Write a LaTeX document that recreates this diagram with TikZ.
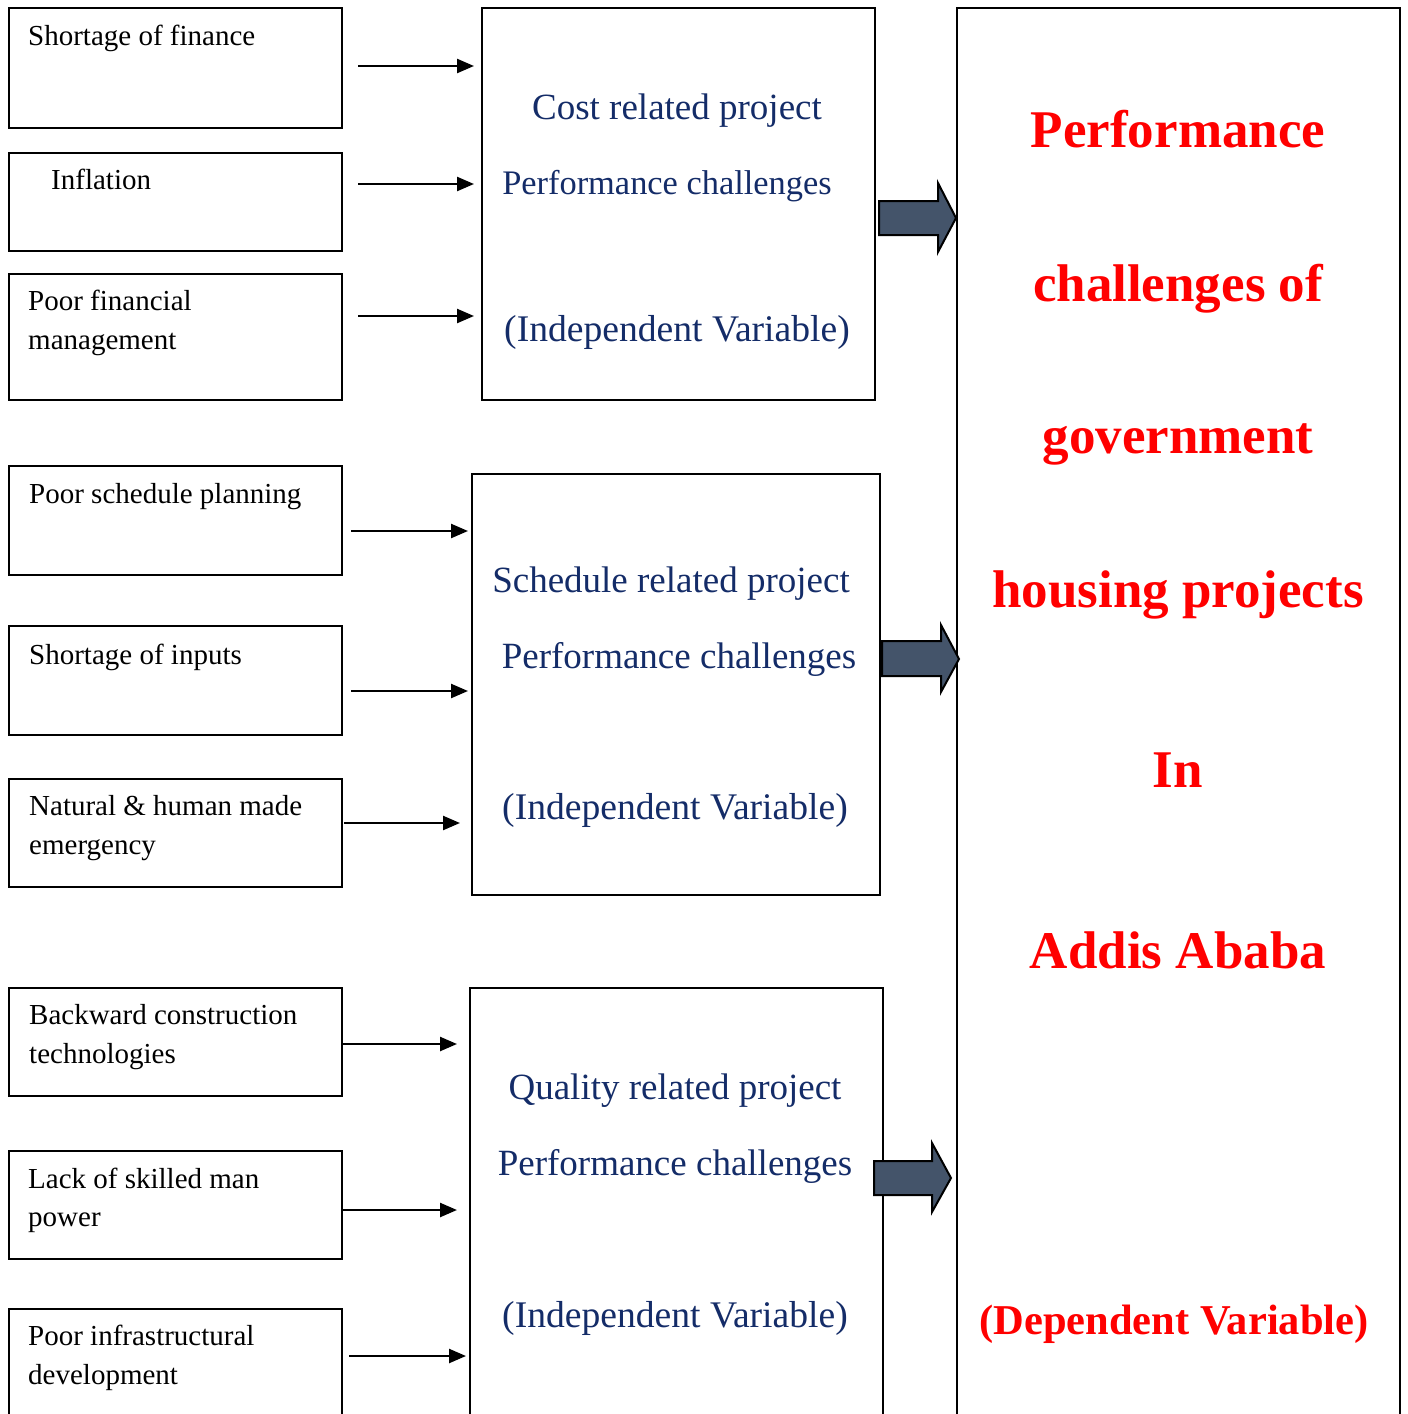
\documentclass[tikz,border=0pt]{standalone}
\usepackage{fontspec}
\setmainfont{Liberation Serif}
\usetikzlibrary{arrows.meta}
\definecolor{navytext}{RGB}{20,44,104}
\definecolor{slatefill}{HTML}{44546A}
\tikzset{
  box/.style={draw=black, line width=2pt, anchor=north west, inner sep=0pt},
  leftlabel/.style={anchor=base west, inner sep=0pt, font=\fontsize{29}{35}\selectfont},
  midlabel/.style={anchor=base, inner sep=0pt, text=navytext},
  deplabel/.style={anchor=base, inner sep=0pt, text=red, font=\fontsize{53}{60}\selectfont\bfseries},
  arr/.style={line width=2.4pt, -{Triangle[length=17pt,width=14pt]}},
  blockarrow/.style={draw=black, line width=2pt, fill=slatefill, line join=miter}
}
\begin{document}
\begin{tikzpicture}[x=1pt,y=-1pt]
\useasboundingbox (0,0) rectangle (1408,1414);
\clip (0,0) rectangle (1408,1414);
\fill[white] (0,0) rectangle (1408,1414);
% left boxes
\node[box, minimum width=333pt, minimum height=120pt] (b1) at (8,7) {};
\node[box, minimum width=333pt, minimum height=98pt] (b2) at (8,152) {};
\node[box, minimum width=333pt, minimum height=126pt] (b3) at (8,273) {};
\node[box, minimum width=333pt, minimum height=109pt] (b4) at (8,465) {};
\node[box, minimum width=333pt, minimum height=109pt] (b5) at (8,625) {};
\node[box, minimum width=333pt, minimum height=108pt] (b6) at (8,778) {};
\node[box, minimum width=333pt, minimum height=108pt] (b7) at (8,987) {};
\node[box, minimum width=333pt, minimum height=108pt] (b8) at (8,1150) {};
\node[box, minimum width=333pt, minimum height=140pt] (b9) at (8,1308) {};
% left labels
\node[leftlabel] (t1) at (28,45) {Shortage of finance};
\node[leftlabel] (t2) at (51,189) {Inflation};
\node[leftlabel] (t3a) at (28,310) {Poor financial};
\node[leftlabel] (t3b) at (28,349) {management};
\node[leftlabel] (t4) at (29,503) {Poor schedule planning};
\node[leftlabel] (t5) at (29,664) {Shortage of inputs};
\node[leftlabel] (t6a) at (29,815) {Natural \& human made};
\node[leftlabel] (t6b) at (29,854) {emergency};
\node[leftlabel] (t7a) at (29,1024) {Backward construction};
\node[leftlabel] (t7b) at (29,1063) {technologies};
\node[leftlabel] (t8a) at (28,1188) {Lack of skilled man};
\node[leftlabel] (t8b) at (28,1226) {power};
\node[leftlabel] (t9a) at (28,1345) {Poor infrastructural};
\node[leftlabel] (t9b) at (28,1384) {development};
% middle boxes
\node[box, minimum width=393pt, minimum height=392pt] (A) at (481,7) {};
\node[box, minimum width=408pt, minimum height=421pt] (B) at (471,473) {};
\node[box, minimum width=413pt, minimum height=460pt] (C) at (469,987) {};
\node[midlabel, font=\fontsize{37}{42}\selectfont] (A1) at (677,119) {Cost related project};
\node[midlabel, font=\fontsize{34.4}{40}\selectfont] (A2) at (667,194) {Performance challenges};
\node[midlabel, font=\fontsize{37.6}{42}\selectfont] (A3) at (677,341) {(Independent Variable)};
\node[midlabel, font=\fontsize{37}{42}\selectfont] (B1) at (671,592) {Schedule related project};
\node[midlabel, font=\fontsize{37}{42}\selectfont] (B2) at (679,668) {Performance challenges};
\node[midlabel, font=\fontsize{37.6}{42}\selectfont] (B3) at (675,819) {(Independent Variable)};
\node[midlabel, font=\fontsize{37}{42}\selectfont] (C1) at (675,1099) {Quality related project};
\node[midlabel, font=\fontsize{37}{42}\selectfont] (C2) at (675,1175) {Performance challenges};
\node[midlabel, font=\fontsize{37.6}{42}\selectfont] (C3) at (675,1327) {(Independent Variable)};
% right box
\node[box, minimum width=443pt, minimum height=1440pt] (D) at (956,7) {};
\node[deplabel] (D1) at (1178,147) {Performance};
\node[deplabel] (D2) at (1178,301) {challenges of};
\node[deplabel] (D3) at (1178,453) {government};
\node[deplabel] (D4) at (1178,607) {housing projects};
\node[deplabel] (D5) at (1178,787) {In};
\node[deplabel] (D6) at (1178,968) {Addis Ababa};
\node[deplabel, font=\fontsize{42.5}{48}\selectfont\bfseries] (D7) at (1174,1334) {(Dependent Variable)};
% small arrows
\coordinate (s1) at (358,66);   \coordinate (e1) at (474,66);
\coordinate (s2) at (358,184);  \coordinate (e2) at (474,184);
\coordinate (s3) at (358,316);  \coordinate (e3) at (474,316);
\coordinate (s4) at (351,531);  \coordinate (e4) at (468,531);
\coordinate (s5) at (351,691);  \coordinate (e5) at (468,691);
\coordinate (s6) at (344,823);  \coordinate (e6) at (460,823);
\coordinate (s7) at (341,1044); \coordinate (e7) at (457,1044);
\coordinate (s8) at (341,1210); \coordinate (e8) at (457,1210);
\coordinate (s9) at (349,1356); \coordinate (e9) at (466,1356);
\foreach \i in {1,...,9} { \draw[arr] (s\i) -- (e\i); }
% block arrows
\draw[blockarrow] (879,201) -- (938,201) -- (938,183) -- (956,218) -- (938,252) -- (938,235) -- (879,235) -- cycle;
\draw[blockarrow] (882,641) -- (941,641) -- (941,625) -- (959,659) -- (941,692) -- (941,676) -- (882,676) -- cycle;
\draw[blockarrow] (874,1161) -- (932,1161) -- (932,1143) -- (951,1178) -- (932,1212) -- (932,1195) -- (874,1195) -- cycle;
\end{tikzpicture}
\end{document}
